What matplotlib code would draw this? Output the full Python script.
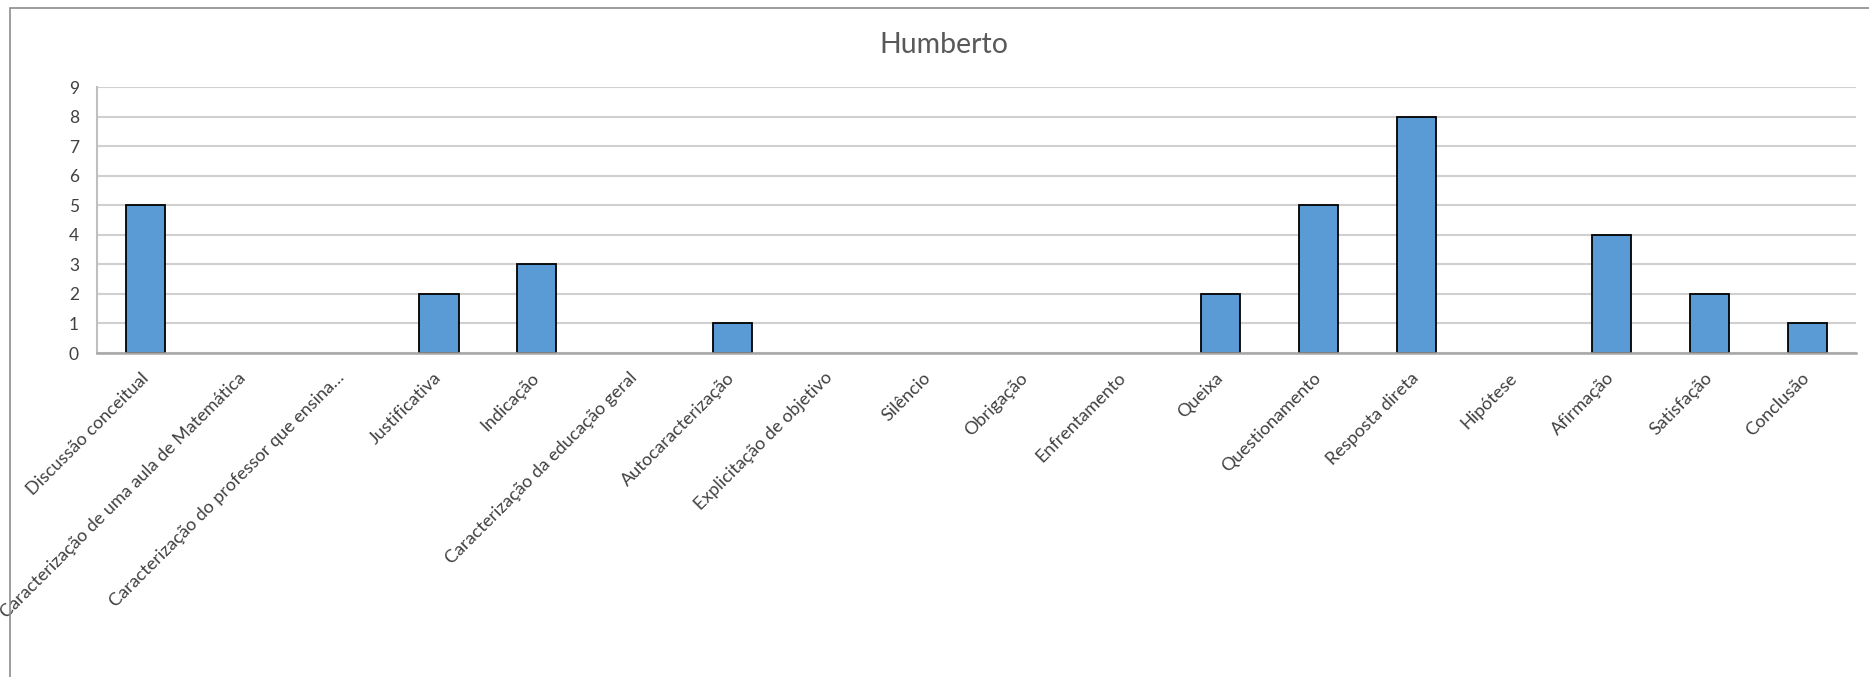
import matplotlib
matplotlib.use("Agg")
import matplotlib.pyplot as plt
from matplotlib.patches import Rectangle

# Categorias e contagens do Humberto
categorias = [
    "Discussão conceitual",
    "Caracterização de uma aula de Matemática",
    "Caracterização do professor que ensina…",
    "Justificativa",
    "Indicação",
    "Caracterização da educação geral",
    "Autocaracterização",
    "Explicitação de objetivo",
    "Silêncio",
    "Obrigação",
    "Enfrentamento",
    "Queixa",
    "Questionamento",
    "Resposta direta",
    "Hipótese",
    "Afirmação",
    "Satisfação",
    "Conclusão",
]
contagens = [5, 0, 0, 2, 3, 0, 1, 0, 0, 0, 0, 2, 5, 8, 0, 4, 2, 1]
y_ticks = list(range(0, 10))

plt.rcParams['font.family'] = ['Lato', 'DejaVu Sans']

fig = plt.figure(figsize=(18.69, 6.77), dpi=100)
W, H = 1869, 677

# moldura da área do gráfico
fig.patches.append(Rectangle((10 / W, -0.1), 1.2, 1 - 8 / H + 0.1,
                             transform=fig.transFigure, fill=False,
                             edgecolor='#8c8c8c', linewidth=1.2))

ax = fig.add_axes([97 / W, 1 - 353 / H, (1856 - 97) / W, (353 - 87) / H])

x = range(len(categorias))
barras = ax.bar(x, contagens, width=0.4, color='#5B9BD5', edgecolor='black',
                linewidth=1.3, zorder=3)
# barras com valor zero não mostram contorno
for b, v in zip(barras, contagens):
    if v == 0:
        b.set_linewidth(0)

ax.set_xlim(-0.5, len(categorias) - 0.5)
ax.set_ylim(0, 9)
ax.set_yticks(y_ticks)
ax.set_yticklabels([str(v) for v in y_ticks])
ax.yaxis.grid(True, color='#d0d0d0', linewidth=1.5, zorder=0)
ax.set_axisbelow(True)

for s in ['top', 'right']:
    ax.spines[s].set_visible(False)
ax.spines['left'].set_color('#bfbfbf')
ax.spines['bottom'].set_color('#a6a6a6')
ax.spines['left'].set_linewidth(1.5)
ax.spines['bottom'].set_linewidth(1.8)
ax.spines['bottom'].set_zorder(4)

ax.set_xticks(list(x))
ax.set_xticklabels(categorias, rotation=45, ha='right', va='center',
                   rotation_mode='anchor', fontsize=13, color='#404040')
ax.tick_params(axis='x', length=0, pad=16)
ax.tick_params(axis='y', length=0, pad=13, labelsize=12.5, labelcolor='#404040')

fig.text(944 / W, 1 - 45 / H, "Humberto", ha='center', va='center',
         fontsize=20.5, color='#595959')

fig.savefig("out.png", dpi=100)
